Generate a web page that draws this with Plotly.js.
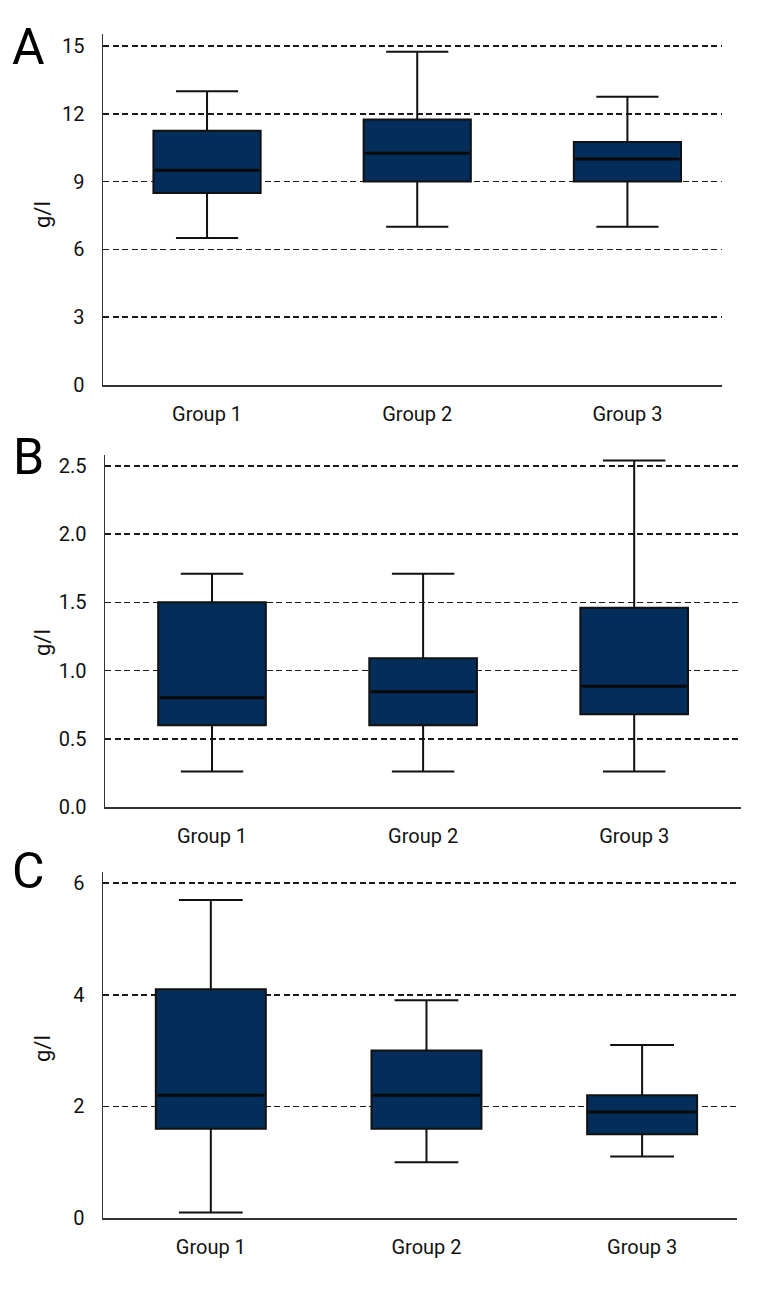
<!DOCTYPE html>
<html>
<head>
<meta charset="utf-8">
<script src="https://cdn.plot.ly/plotly-3.0.1.min.js"></script>
<style>html,body{margin:0;padding:0;background:#fff;}</style>
</head>
<body>
<div id="chart" style="width:768px;height:1296px;"></div>
<script>
var groups = ["Group 1", "Group 2", "Group 3"];

// Panel A
var aLower  = [6.5, 7.0, 7.0];
var aQ1     = [8.5, 9.0, 9.0];
var aMedian = [9.5, 10.25, 10.0];
var aQ3     = [11.25, 11.75, 10.75];
var aUpper  = [13.0, 14.75, 12.75];
var aTicks  = [0, 3, 6, 9, 12, 15];

// Panel B
var bLower  = [0.26, 0.26, 0.26];
var bQ1     = [0.6, 0.6, 0.68];
var bMedian = [0.8, 0.845, 0.885];
var bQ3     = [1.5, 1.09, 1.46];
var bUpper  = [1.71, 1.71, 2.54];
var bTicks  = [0, 0.5, 1.0, 1.5, 2.0, 2.5];

// Panel C
var cLower  = [0.1, 1.0, 1.1];
var cQ1     = [1.6, 1.6, 1.5];
var cMedian = [2.2, 2.2, 1.9];
var cQ3     = [4.1, 3.0, 2.2];
var cUpper  = [5.7, 3.9, 3.1];
var cTicks  = [0, 2, 4, 6];

var panelLetters = ["A", "B", "C"];
var yTitle = "g/l";

var FONT = "Roboto, 'Liberation Sans', sans-serif";
var FILL = "#032d5a";

function boxTrace(lo, q1, med, q3, hi, xa, ya) {
  return {
    type: "box",
    x: groups,
    lowerfence: lo, q1: q1, median: med, q3: q3, upperfence: hi,
    xaxis: xa, yaxis: ya,
    fillcolor: FILL,
    line: {color: "#111111", width: 2},
    whiskerwidth: 0.58,
    width: 0.51,
    boxpoints: false,
    showlegend: false,
    hoverinfo: "skip"
  };
}
// thicker median line drawn on top, from the same median values
function medianTrace(med, xa, ya) {
  return {
    type: "box",
    x: groups,
    lowerfence: med, q1: med, median: med, q3: med, upperfence: med,
    xaxis: xa, yaxis: ya,
    fillcolor: "rgba(0,0,0,0)",
    line: {color: "#0a0a0a", width: 3},
    whiskerwidth: 0,
    width: 0.49,
    boxpoints: false,
    showlegend: false,
    hoverinfo: "skip"
  };
}

var data = [
  boxTrace(aLower, aQ1, aMedian, aQ3, aUpper, "x", "y"),
  medianTrace(aMedian, "x", "y"),
  boxTrace(bLower, bQ1, bMedian, bQ3, bUpper, "x2", "y2"),
  medianTrace(bMedian, "x2", "y2"),
  boxTrace(cLower, cQ1, cMedian, cQ3, cUpper, "x3", "y3"),
  medianTrace(cMedian, "x3", "y3")
];

function xAxis(domain, anchor, range) {
  return {
    domain: domain, anchor: anchor, type: "category",
    range: range,
    showline: true, linecolor: "#333333", linewidth: 1.5,
    showgrid: false, zeroline: false, ticks: "",
    ticklabelstandoff: 10,
    tickfont: {family: FONT, size: 20, color: "#111111"}
  };
}
function yAxis(domain, anchor, range, ticks, fmt) {
  return {
    domain: domain, anchor: anchor,
    range: range, tickvals: ticks, tickformat: fmt,
    showline: true, linecolor: "#333333", linewidth: 1.5,
    showgrid: true, gridcolor: "#1a1a1a", gridwidth: 1.5, griddash: "6px,3.5px",
    zeroline: false, ticks: "",
    ticklabelstandoff: 13,
    tickfont: {family: FONT, size: 20, color: "#111111"}
  };
}

function px(a, b) { return [a / 768, b / 768]; }
function py(top, bottom) { return [1 - bottom / 1296, 1 - top / 1296]; }

function letter(t, yTop) {
  return {text: t, xref: "paper", yref: "paper", x: 28/768, y: 1 - yTop/1296,
          xanchor: "center", yanchor: "middle", showarrow: false,
          font: {family: FONT, size: 50, color: "#000"}};
}
function ytitle(yc) {
  return {text: yTitle, xref: "paper", yref: "paper", x: 42/768, y: 1 - yc/1296,
          xanchor: "center", yanchor: "middle", textangle: -90, showarrow: false,
          font: {family: FONT, size: 22, color: "#111"}};
}

var layout = {
  width: 768, height: 1296,
  margin: {l: 0, r: 0, t: 0, b: 0},
  paper_bgcolor: "#ffffff", plot_bgcolor: "#ffffff",
  showlegend: false,
  boxmode: "overlay",
  xaxis:  xAxis(px(103, 722), "y",  [-0.495, 2.45]),
  yaxis:  yAxis(py(34, 385), "x",   [0, 15.53], aTicks, "d"),
  xaxis2: xAxis(px(105, 741), "y2", [-0.507, 2.506]),
  yaxis2: yAxis(py(455, 807), "x2", [0, 2.58], bTicks, ".1f"),
  xaxis3: xAxis(px(103, 737), "y3", [-0.5, 2.44]),
  yaxis3: yAxis(py(872, 1218), "x3", [0, 6.2], cTicks, "d"),
  annotations: [
    letter(panelLetters[0], 47),
    letter(panelLetters[1], 457),
    letter(panelLetters[2], 871),
    ytitle(215), ytitle(643), ytitle(1049)
  ]
};

Plotly.newPlot("chart", data, layout, {staticPlot: true, displayModeBar: false});
</script>
</body>
</html>
